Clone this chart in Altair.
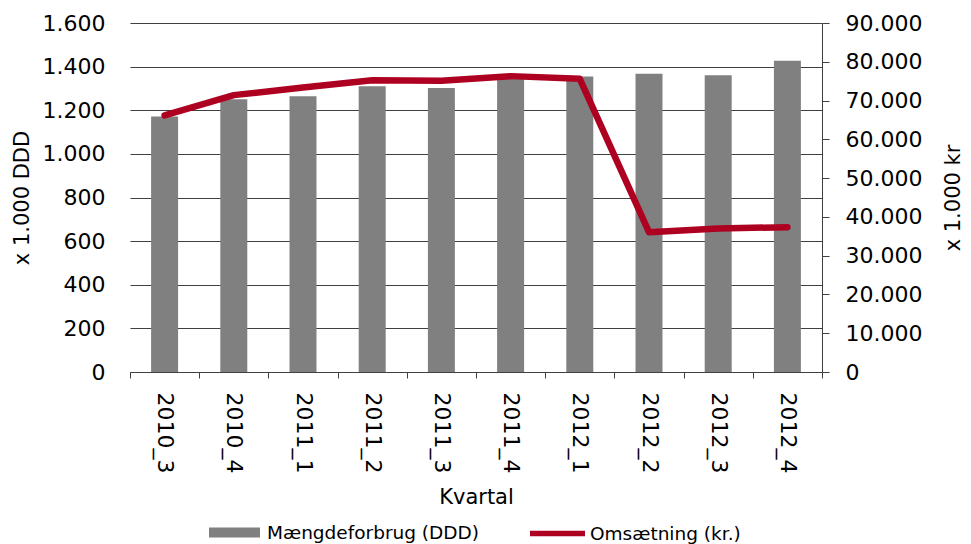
import altair as alt
import pandas as pd

quarters = ["2010_3", "2010_4", "2011_1", "2011_2", "2011_3",
            "2011_4", "2012_1", "2012_2", "2012_3", "2012_4"]
ddd = [1171, 1250, 1264, 1310, 1302, 1350, 1355, 1367, 1360, 1427]
omsaetning = [66150, 71400, 73350, 75250, 75100, 76300, 75600, 36050, 37000, 37350]
left_ticks = [0, 200, 400, 600, 800, 1000, 1200, 1400, 1600]
right_ticks = [0, 10000, 20000, 30000, 40000, 50000, 60000, 70000, 80000, 90000]
series_bar = "Mængdeforbrug (DDD)"
series_line = "Omsætning (kr.)"

df = pd.DataFrame({"Kvartal": quarters, "DDD": ddd, "Oms": omsaetning,
                   "s1": series_bar, "s2": series_line})

FONT = "DejaVu Sans"
BAR = "#808080"
RED = "#AE0020"
GRID = "#404040"
fmt = "replace(format(datum.value, ','), ',', '.')"

x = alt.X("Kvartal:N", sort=quarters, title="Kvartal",
          scale=alt.Scale(paddingInner=0, paddingOuter=0),
          axis=alt.Axis(labelAngle=90, labelAlign="left", labelBaseline="middle",
                        labelPadding=14, tickBand="extent", tickSize=6,
                        domainColor=GRID, tickColor=GRID, grid=False,
                        labelFontSize=22, titleFontSize=21, titlePadding=14))

bars = alt.Chart(df).mark_bar(width=alt.RelativeBandSize(0.39)).encode(
    x=x,
    y=alt.Y("DDD:Q", scale=alt.Scale(domain=[0, 1600], nice=False),
            axis=alt.Axis(values=left_ticks, labelExpr=fmt, title="x 1.000 DDD",
                          domain=False, ticks=False, labelPadding=25, grid=True,
                          gridColor=GRID, gridWidth=1, labelFontSize=22,
                          titleFontSize=21, titlePadding=10)),
    color=alt.Color("s1:N", scale=alt.Scale(range=[BAR]),
                    legend=alt.Legend(title=None, orient="none", legendX=79, legendY=484,
                                      symbolType="M-1,-0.2H1V0.2H-1Z", symbolSize=2601,
                                      symbolStrokeWidth=0, labelFontSize=18.5, labelOffset=7,
                                      labelLimit=400, padding=0)),
)

line = alt.Chart(df).mark_line(strokeWidth=6.5, strokeCap="round", strokeJoin="round").encode(
    x=x,
    y=alt.Y("Oms:Q", scale=alt.Scale(domain=[0, 90000], nice=False),
            axis=alt.Axis(orient="right", values=right_ticks, labelExpr=fmt,
                          title="x 1.000 kr", titleAngle=270, grid=False, domain=True,
                          domainColor=GRID, tickColor=GRID, ticks=True, tickSize=7,
                          labelPadding=16, labelFontSize=22, titleFontSize=21,
                          titlePadding=42)),
    stroke=alt.Stroke("s2:N", scale=alt.Scale(range=[RED]),
                      legend=alt.Legend(title=None, orient="none", legendX=397, legendY=480,
                                        symbolType="stroke", symbolSize=3025,
                                        symbolStrokeWidth=5.5, labelFontSize=18.5,
                                        labelOffset=2, labelLimit=400, padding=0)),
)

chart = (
    alt.layer(bars, line)
    .resolve_scale(y="independent", color="independent", stroke="independent")
    .properties(width=692, height=349,
                autosize=alt.AutoSizeParams(type="none"),
                padding={"left": 130, "top": 23, "right": 149, "bottom": 172})
    .configure_view(strokeWidth=0)
    .configure_axis(labelFont=FONT, titleFont=FONT, labelColor="black",
                    titleColor="black", titleFontWeight="normal")
    .configure_legend(labelFont=FONT, labelColor="black")
)

chart.save("out.html", embed_options={"renderer": "svg", "actions": False})
